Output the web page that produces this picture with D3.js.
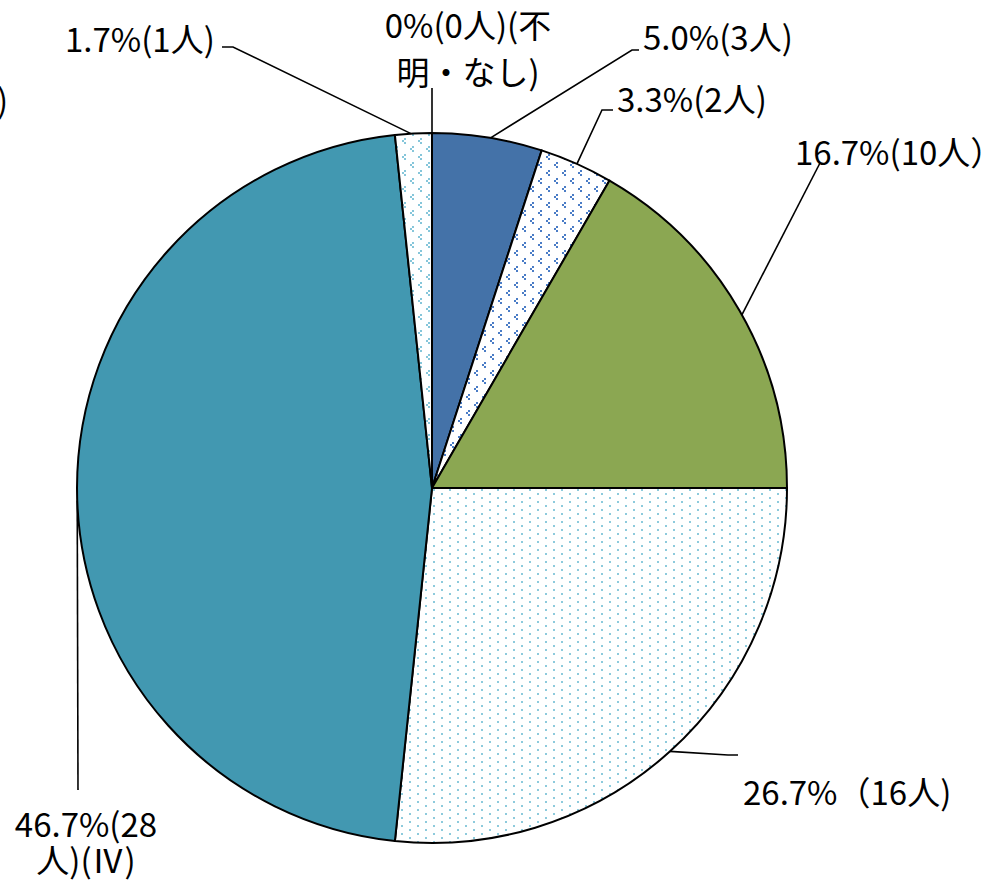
<!DOCTYPE html>
<html><head><meta charset="utf-8">
<script src="https://cdn.jsdelivr.net/npm/d3@7"></script>
<style>
html,body{margin:0;padding:0;background:#fff;}
svg text{font-family:"Noto Sans CJK JP","Noto Sans",sans-serif;fill:#000;}
</style></head>
<body><svg id="c" width="994" height="882"></svg>
<script>
// data (clockwise from 12 o'clock)
const categories = ["不明・なし","A","B","C","D","Ⅳ","E"];
const counts = [0, 3, 2, 10, 16, 28, 1];
const labelLines = [
  ["0%(0人)(不","明・なし)"],
  ["5.0%(3人)"],
  ["3.3%(2人)"],
  ["16.7%(10人）"],
  ["26.7%（16人)"],
  ["46.7%(28","人)(Ⅳ)"],
  ["1.7%(1人)"]
];
const fills = ["#4472A8","#4472A8","url(#chevBlue)","#8BA752","url(#dotsLight)","#4298B1","url(#chevLight)"];

const svg = d3.select("#c");
const cx = 432, cy = 488, R = 355;

// patterns
const defs = svg.append("defs");
function chevPattern(id, color){
  const p = defs.append("pattern").attr("id",id).attr("patternUnits","userSpaceOnUse")
    .attr("width",16).attr("height",16);
  p.append("rect").attr("width",16).attr("height",16).attr("fill","#fff");
  const s = 2;
  [[2,2],[10,10]].forEach(([x,y])=>{
    p.append("rect").attr("x",x+s).attr("y",y).attr("width",s).attr("height",s).attr("fill",color);
    p.append("rect").attr("x",x).attr("y",y+s).attr("width",s).attr("height",s).attr("fill",color);
    p.append("rect").attr("x",x+s).attr("y",y+2*s).attr("width",s).attr("height",s).attr("fill",color);
  });
}
chevPattern("chevBlue","#4A7CC6");
chevPattern("chevLight","#86C6DA");
{
  const p = defs.append("pattern").attr("id","dotsLight").attr("patternUnits","userSpaceOnUse")
    .attr("width",16).attr("height",8);
  p.append("rect").attr("width",16).attr("height",8).attr("fill","#fff");
  p.append("rect").attr("x",1).attr("y",1).attr("width",2).attr("height",2).attr("fill","#8DCADC");
  p.append("rect").attr("x",9).attr("y",5).attr("width",2).attr("height",2).attr("fill","#8DCADC");
}

const pie = d3.pie().sort(null).value(d=>d);
const arcs = pie(counts);
const arc = d3.arc().innerRadius(0).outerRadius(R);

const g = svg.append("g").attr("transform",`translate(${cx},${cy})`);
g.selectAll("path").data(arcs).enter().append("path")
  .attr("d",arc)
  .attr("fill",(d,i)=>fills[i])
  .attr("stroke","#000").attr("stroke-width",2).attr("stroke-linejoin","round");

function rim(deg){ const a = deg*Math.PI/180; return [cx+R*Math.sin(a), cy-R*Math.cos(a)]; }
const leaders = [
  [[cx,cy-R],[cx,88]],
  [rim(9.5),[632,50],[639,50]],
  [rim(24.1),[602,110],[613,110]],
  [rim(60.8),[820,163]],
  [rim(137.9),[728,755],[738,755]],
  [rim(268),[78,790]],
  [rim(356.6),[233,47],[222,47]]
];
leaders.forEach(pts=>{
  svg.append("path").attr("d",d3.line()(pts)).attr("fill","none")
    .attr("stroke","#000").attr("stroke-width",1.6);
});

// labels: [x, baseline y, anchor, line height]
const labelPos = [
  [468,38,"middle",47],
  [643,50,"start",0],
  [617,112,"start",0],
  [795,165,"start",0],
  [743,805,"start",0],
  [86,837,"middle",36],
  [65,52,"start",0]
];
labelLines.forEach((lines,i)=>{
  const [x,y,anchor,lh] = labelPos[i];
  const t = svg.append("text").attr("x",x).attr("y",y).attr("text-anchor",anchor).attr("font-size",33);
  lines.forEach((ln,j)=>{
    t.append("tspan").attr("x",x).attr("y",y+j*lh).text(ln);
  });
});
// cut-off label fragment at left edge
svg.append("text").attr("x",-3).attr("y",113).attr("font-size",33).text(")");
</script>
</body></html>
